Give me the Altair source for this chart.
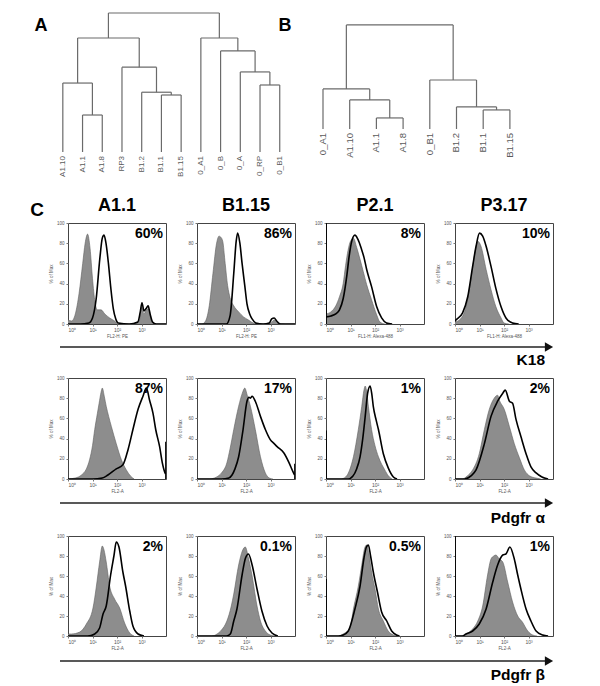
import altair as alt
import pandas as pd

FONT = "Liberation Sans"

# ---------------- Panel A dendrogram ----------------
A_LEAVES = ["A1.10", "A1.1", "A1.8", "RP3", "B1.2", "B1.1", "B1.15",
            "0_A1", "0_B", "0_A", "0_RP", "0_B1"]
# (child, child, merge height); merge k is referred to as "m<k>"
A_MERGES = [
    ("A1.1", "A1.8", 0.266),   # m0
    ("B1.1", "B1.15", 0.41),   # m1
    ("B1.2", "m1", 0.43),      # m2
    ("0_RP", "0_B1", 0.482),   # m3
    ("A1.10", "m0", 0.496),    # m4
    ("0_A", "m3", 0.576),      # m5
    ("RP3", "m2", 0.61),       # m6
    ("0_B", "m5", 0.727),      # m7
    ("m4", "m6", 0.82),        # m8
    ("0_A1", "m7", 0.82),      # m9
    ("m8", "m9", 1.0),         # m10
]

# ---------------- Panel B dendrogram ----------------
B_LEAVES = ["0_A1", "A1.10", "A1.1", "A1.8", "0_B1", "B1.2", "B1.1", "B1.15"]
B_MERGES = [
    ("A1.1", "A1.8", 0.106),   # m0
    ("B1.1", "B1.15", 0.183),  # m1
    ("B1.2", "m1", 0.212),     # m2
    ("A1.10", "m0", 0.279),    # m3
    ("0_A1", "m3", 0.385),     # m4
    ("0_B1", "m2", 0.471),     # m5
    ("m4", "m5", 1.0),         # m6
]

PANEL_LETTERS = ["A", "B", "C"]

# ---------------- Panel C flow histograms ----------------
CLONES = ["A1.1", "B1.15", "P2.1", "P3.17"]
MARKERS = ["K18", "Pdgfr α", "Pdgfr β"]
PERCENT = {
    "K18": ["60%", "86%", "8%", "10%"],
    "Pdgfr α": ["87%", "17%", "1%", "2%"],
    "Pdgfr β": ["2%", "0.1%", "0.5%", "1%"],
}
X_TITLES = {
    "K18": ["FL2-H: PE", "FL2-H: PE", "FL1-H: Alexa-488", "FL1-H: Alexa-488"],
    "Pdgfr α": ["FL2-A", "FL2-A", "FL2-A", "FL2-A"],
    "Pdgfr β": ["FL2-A", "FL2-A", "FL2-A", "FL2-A"],
}
X_TICKS = [0, 1, 2, 3]          # log10 decades
Y_TICKS = [0, 20, 40, 60, 80, 100]

# control (grey filled) histograms: (log10 intensity, % of max)
CONTROL = {
    "K18": [
        ([0, 0.15, 0.3, 0.45, 0.6, 0.7, 0.8, 0.9, 1.0, 1.1, 1.2, 1.35, 1.5, 1.7, 1.9, 2.05, 2.6, 2.9, 3.0, 3.1, 3.2, 3.3, 3.4, 3.6, 4.0],
         [4, 3, 10, 30, 60, 80, 89, 75, 45, 22, 14, 14, 10, 6, 3, 0, 0, 2, 17, 10, 14, 15, 3, 0, 0]),
        ([0, 0.2, 0.35, 0.5, 0.65, 0.8, 0.9, 0.97, 1.05, 1.15, 1.25, 1.35, 1.5, 1.7, 1.9, 2.1, 2.3, 2.6, 3.0, 3.15, 3.3, 3.6, 4.0],
         [0, 0, 3, 18, 50, 80, 87, 86, 82, 60, 38, 26, 18, 12, 7, 4, 1, 0, 1, 4, 1, 0, 0]),
        ([0, 0.2, 0.4, 0.55, 0.7, 0.8, 0.9, 1.0, 1.12, 1.25, 1.39, 1.52, 1.66, 1.86, 2.07, 2.2, 2.4],
         [10, 12, 18, 27, 40, 58, 73, 82, 85, 76, 64, 52, 39, 24, 9, 2, 0]),
        ([0, 0.18, 0.45, 0.65, 0.83, 0.93, 1.06, 1.27, 1.47, 1.67, 1.88, 2.0, 2.2],
         [2, 4, 17, 44, 73, 82, 77, 54, 34, 17, 6, 1, 0]),
    ],
    "Pdgfr α": [
        ([0, 0.3, 0.55, 0.75, 0.88, 1.0, 1.09, 1.2, 1.27, 1.35, 1.4, 1.48, 1.56, 1.66, 1.77, 1.97, 2.18, 2.38, 2.55, 2.7],
         [0, 1, 4, 10, 19, 33, 49, 65, 75, 86, 90, 82, 72, 62, 52, 35, 19, 9, 3, 0]),
        ([0, 0.5, 0.8, 1.0, 1.22, 1.35, 1.5, 1.7, 1.85, 1.95, 2.05, 2.18, 2.38, 2.59, 2.79, 2.95, 3.1],
         [0, 0, 2, 6, 16, 30, 49, 72, 85, 90, 83, 72, 49, 22, 6, 1, 0]),
        ([0, 0.6, 0.8, 0.95, 1.12, 1.32, 1.46, 1.55, 1.6, 1.65, 1.73, 1.86, 2.0, 2.14, 2.4, 2.55, 2.7],
         [0, 0, 2, 8, 22, 49, 72, 88, 92, 88, 72, 49, 33, 22, 9, 3, 0]),
        ([0, 0.3, 0.5, 0.72, 0.99, 1.2, 1.4, 1.6, 1.74, 1.81, 2.01, 2.22, 2.42, 2.63, 2.83, 3.05, 3.3, 3.5],
         [0, 0, 3, 9, 25, 49, 69, 80, 83, 78, 69, 52, 35, 21, 9, 3, 1, 0]),
    ],
    "Pdgfr β": [
        ([0, 0.14, 0.48, 0.75, 1.02, 1.16, 1.29, 1.4, 1.47, 1.56, 1.7, 1.9, 2.11, 2.31, 2.52, 2.7],
         [2, 2, 4, 12, 28, 50, 74, 90, 86, 74, 50, 37, 28, 13, 3, 0]),
        ([0, 0.6, 0.82, 1.0, 1.22, 1.4, 1.5, 1.7, 1.85, 1.97, 2.1, 2.25, 2.45, 2.59, 2.79, 2.99, 3.2],
         [0, 0, 2, 6, 15, 30, 42, 71, 85, 89, 78, 60, 30, 15, 5, 1, 0]),
        ([0, 0.5, 0.7, 0.98, 1.12, 1.32, 1.46, 1.58, 1.66, 1.75, 1.86, 2.0, 2.14, 2.34, 2.54, 2.75, 2.9],
         [0, 0, 2, 8, 27, 50, 71, 88, 91, 82, 64, 47, 27, 15, 5, 1, 0]),
        ([0, 0.3, 0.45, 0.72, 0.93, 1.13, 1.33, 1.47, 1.58, 1.67, 1.81, 1.95, 2.15, 2.35, 2.56, 2.75, 2.97, 3.17, 3.35],
         [0, 0, 2, 7, 15, 30, 61, 77, 80, 81, 77, 74, 54, 34, 20, 14, 5, 1, 0]),
    ],
}

# stained (black outline) histograms
STAINED = {
    "K18": [
        ([0, 0.5, 0.85, 1.0, 1.15, 1.3, 1.4, 1.47, 1.55, 1.65, 1.75, 1.85, 1.95, 2.05, 2.5, 2.85, 2.95, 3.02, 3.1, 3.18, 3.27, 3.35, 3.45, 3.6, 4.0],
         [0, 0, 1, 6, 25, 65, 85, 88, 80, 60, 35, 15, 5, 1, 0, 2, 12, 21, 13, 15, 18, 10, 2, 0, 0]),
        ([0, 1.0, 1.2, 1.35, 1.5, 1.6, 1.66, 1.75, 1.84, 1.95, 2.04, 2.15, 2.25, 2.4, 2.7, 2.95, 3.05, 3.15, 3.25, 3.4, 4.0],
         [0, 0, 0, 8, 50, 82, 90, 80, 60, 38, 20, 10, 5, 1, 0, 1, 5, 6, 3, 0, 0]),
        ([0, 0.2, 0.4, 0.55, 0.7, 0.85, 0.95, 1.05, 1.18, 1.3, 1.45, 1.55, 1.66, 1.86, 2.07, 2.27, 2.47, 2.7],
         [7, 8, 10, 14, 25, 48, 68, 82, 88, 84, 74, 66, 54, 37, 17, 6, 1, 0]),
        ([0, 0.04, 0.31, 0.52, 0.72, 0.86, 1.0, 1.13, 1.27, 1.47, 1.67, 1.88, 2.08, 2.35, 2.6],
         [3, 4, 11, 27, 57, 77, 90, 87, 77, 57, 35, 17, 6, 1, 0]),
    ],
    "Pdgfr α": [
        ([0, 1.0, 1.4, 1.63, 1.97, 2.24, 2.45, 2.65, 2.86, 3.06, 3.2, 3.33, 3.47, 3.58, 3.74, 3.85, 3.92, 3.98],
         [0, 0, 1, 4, 10, 14, 29, 49, 69, 82, 90, 78, 65, 49, 32, 16, 9, 5]),
        ([0, 1.0, 1.3, 1.43, 1.55, 1.7, 1.88, 2.04, 2.12, 2.18, 2.25, 2.38, 2.59, 2.79, 2.99, 3.15, 3.27, 3.54, 3.74, 3.92, 3.98],
         [0, 0, 1, 4, 10, 22, 49, 77, 81, 80, 82, 77, 62, 49, 39, 35, 32, 26, 17, 7, 4]),
        ([0, 0.9, 1.1, 1.25, 1.39, 1.5, 1.6, 1.7, 1.8, 1.87, 1.93, 2.05, 2.14, 2.34, 2.54, 2.75, 2.9],
         [0, 0, 3, 10, 22, 40, 62, 85, 92, 84, 72, 58, 49, 25, 11, 2, 0]),
        ([0, 0.4, 0.65, 0.86, 1.2, 1.47, 1.74, 1.95, 2.05, 2.22, 2.35, 2.49, 2.69, 2.9, 3.1, 3.31, 3.55, 3.8],
         [0, 0, 3, 9, 35, 62, 77, 85, 88, 77, 75, 59, 42, 25, 12, 6, 2, 0]),
    ],
    "Pdgfr β": [
        ([0, 0.8, 1.09, 1.29, 1.43, 1.56, 1.74, 1.88, 1.97, 2.08, 2.24, 2.35, 2.52, 2.65, 2.86, 3.1],
         [0, 0, 2, 8, 22, 30, 61, 81, 94, 89, 64, 50, 25, 10, 2, 0]),
        ([0, 1.2, 1.36, 1.5, 1.63, 1.84, 1.98, 2.1, 2.25, 2.45, 2.65, 2.86, 3.06, 3.3],
         [0, 0, 2, 15, 27, 61, 78, 82, 71, 47, 25, 10, 3, 0]),
        ([0, 0.5, 0.7, 0.91, 1.18, 1.39, 1.55, 1.65, 1.73, 1.82, 1.93, 2.1, 2.27, 2.48, 2.68, 2.88, 3.0],
         [0, 0, 1, 5, 27, 50, 78, 89, 91, 80, 64, 44, 24, 15, 5, 1, 0]),
        ([0, 0.3, 0.45, 0.72, 0.99, 1.27, 1.54, 1.74, 1.95, 2.08, 2.24, 2.42, 2.56, 2.69, 2.9, 3.1, 3.31, 3.58, 3.8],
         [0, 0, 2, 5, 12, 27, 54, 71, 81, 82, 89, 77, 61, 47, 27, 15, 5, 1, 0]),
    ],
}

# off-scale event piles at the axis edges: (decade, % of max)
SPIKES = {
    "K18": [[], [], [(0, 100)], []],
    "Pdgfr α": [[(4, 37)], [(4, 15)], [(0, 48)], []],
    "Pdgfr β": [[], [], [(0, 57)], [(0, 100)]],
}

HIDDEN_VIEW = alt.ViewBackground(strokeOpacity=0, fillOpacity=0)


# ---------------- helpers ----------------
def dendro_frames(leaves, merges):
    pos = {name: (i, 0.0) for i, name in enumerate(leaves)}
    rows = []
    for k, (a, b, h) in enumerate(merges):
        xa, ha = pos[a]
        xb, hb = pos[b]
        rows.append(dict(x=xa, x2=xa, y=ha, y2=h))
        rows.append(dict(x=xb, x2=xb, y=hb, y2=h))
        rows.append(dict(x=xa, x2=xb, y=h, y2=h))
        pos[f"m{k}"] = ((xa + xb) / 2, h)
    segs = pd.DataFrame(rows)
    labs = pd.DataFrame({"x": list(range(len(leaves))), "y": [0.0] * len(leaves), "name": leaves})
    return segs, labs


def dendro_chart(leaves, merges, xdom, ydom, w, h, fsize, letters):
    segs, labs = dendro_frames(leaves, merges)
    xs = alt.Scale(domain=xdom, nice=False, zero=False, clamp=False)
    ys = alt.Scale(domain=ydom, nice=False, zero=False, clamp=False)
    rules = alt.Chart(segs).mark_rule(color="#6a6a6a", strokeWidth=1.2).encode(
        x=alt.X("x:Q", scale=xs, axis=None), x2="x2:Q",
        y=alt.Y("y:Q", scale=ys, axis=None), y2="y2:Q")
    text = alt.Chart(labs).mark_text(angle=270, align="right", baseline="middle", dx=-4,
                                     fontSize=fsize, font=FONT, color="#5a5a5a").encode(
        x=alt.X("x:Q", scale=xs, axis=None), y=alt.Y("y:Q", scale=ys, axis=None), text="name:N")
    layers = [rules, text]
    for letter, (lx, ly) in letters:
        layers.append(alt.Chart(pd.DataFrame({"t": [letter]})).mark_text(
            fontSize=18, fontWeight="bold", font=FONT, color="black").encode(
            text="t:N", x=alt.value(lx), y=alt.value(ly)))
    return alt.layer(*layers).properties(width=w, height=h, view=HIDDEN_VIEW)


LABEL_EXPR = ("datum.value == 0 ? '10⁰' : datum.value == 1 ? '10¹' : "
              "datum.value == 2 ? '10²' : '10³'")


def hist_chart(marker, ci, height, with_title):
    cx, cy = CONTROL[marker][ci]
    sx, sy = STAINED[marker][ci]
    cdf = pd.DataFrame({"x": cx, "y": cy})
    sdf = pd.DataFrame({"x": sx, "y": sy})
    xenc = alt.X("x:Q", scale=alt.Scale(domain=[0, 4], nice=False, zero=False),
                 axis=alt.Axis(values=X_TICKS, labelExpr=LABEL_EXPR, title=X_TITLES[marker][ci],
                               labelFontSize=5, titleFontSize=4.5, titleFontWeight="normal",
                               labelColor="#555", titleColor="#555", tickSize=2, tickColor="#777",
                               labelPadding=1, titlePadding=1, domain=False, grid=False,
                               labelFont=FONT, titleFont=FONT))
    yenc = alt.Y("y:Q", scale=alt.Scale(domain=[0, 100], nice=False, zero=True),
                 axis=alt.Axis(values=Y_TICKS, title="% of Max", labelFontSize=4.5,
                               titleFontSize=4.5, titleFontWeight="normal",
                               labelColor="#555", titleColor="#555", tickSize=2, tickColor="#777",
                               labelPadding=2, titlePadding=3, domain=False, grid=False,
                               labelFont=FONT, titleFont=FONT))
    area = alt.Chart(cdf).mark_area(
        color="#8d8d8d", opacity=1, interpolate="monotone", clip=True,
        line=alt.OverlayMarkDef(color="#5f5f5f", strokeWidth=0.6)).encode(x=xenc, y=yenc)
    line = alt.Chart(sdf).mark_line(color="black", strokeWidth=1.6, interpolate="monotone",
                                    clip=True).encode(x=xenc, y=yenc)
    layers = [area, line]
    sp = SPIKES[marker][ci]
    if sp:
        spdf = pd.DataFrame({"x": [p[0] for p in sp], "y": [0] * len(sp), "y2": [p[1] for p in sp]})
        layers.append(alt.Chart(spdf).mark_rule(color="black", strokeWidth=1.8, clip=True).encode(
            x=xenc, y=yenc, y2="y2:Q"))
    layers.append(alt.Chart(pd.DataFrame({"t": [PERCENT[marker][ci]]})).mark_text(
        align="right", baseline="middle", fontSize=14, fontWeight="bold", font=FONT,
        color="black").encode(text="t:N", x=alt.value(95), y=alt.value(11)))
    props = dict(width=98, height=height,
                 view=alt.ViewBackground(stroke="#444", strokeWidth=1, strokeOpacity=1,
                                         fill="white"))
    ch = alt.layer(*layers).properties(**props)
    if with_title:
        ch = ch.properties(title=alt.TitleParams(CLONES[ci], fontSize=18, fontWeight="bold",
                                                 font=FONT, color="black", offset=5,
                                                 frame="group", anchor="middle"))
    return ch


def spacer(w, h):
    return alt.Chart(pd.DataFrame({"v": [0]})).mark_point(opacity=0).encode(
        x=alt.X("v:Q", axis=None), y=alt.Y("v:Q", axis=None)).properties(
        width=w, height=h, view=HIDDEN_VIEW)


def letter_cell(letter, w, h, lx, ly):
    return alt.Chart(pd.DataFrame({"t": [letter]})).mark_text(
        fontSize=19, fontWeight="bold", font=FONT, color="black", baseline="middle").encode(
        text="t:N", x=alt.value(lx), y=alt.value(ly)).properties(width=w, height=h, view=HIDDEN_VIEW)


def arrow_chart(marker, w, h, line_y, text_y):
    d = alt.Chart(pd.DataFrame({"label": [marker]}))
    rule = d.mark_rule(color="#222", strokeWidth=1.5).encode(
        x=alt.value(52), x2=alt.value(537), y=alt.value(line_y))
    tri = d.mark_point(shape="triangle-right", filled=True, color="#111", opacity=1,
                       size=90).encode(x=alt.value(541), y=alt.value(line_y))
    lab = d.mark_text(align="right", baseline="middle", fontSize=15.5, fontWeight="bold",
                      font=FONT, color="black").encode(
        text="label:N", x=alt.value(537), y=alt.value(text_y))
    return alt.layer(rule, tri, lab).properties(width=w, height=h, view=HIDDEN_VIEW)


# ---------------- assemble: aligned 5-column grid, flush bounds ----------------
# column widths: 29, 98, 98, 98, 98 ; column gap 31 -> plot lefts at 68, 197, 326, 455
COL_W = [29, 98, 98, 98, 98]
TOP_H = 215
# panel A sits in column 0 (x0 = 8): 19.72 px per leaf, first leaf at x = 63
chart_a = dendro_chart(A_LEAVES, A_MERGES, [-2.78, -2.78 + 29 / 19.72], [-0.511, 1.036],
                       29, TOP_H, 8,
                       [(PANEL_LETTERS[0], (33, 18)), (PANEL_LETTERS[1], (277, 18))])
# panel B sits in column 2 (x0 = 197): 26.7 px per leaf, first leaf at x = 323
chart_b = dendro_chart(B_LEAVES, B_MERGES, [-4.719, -4.719 + 98 / 26.7], [-0.904, 1.163],
                       98, TOP_H, 9.5, [])

cells = [chart_a, spacer(98, TOP_H), chart_b, spacer(98, TOP_H), spacer(98, TOP_H)]

row_heights = [101, 101, 100]
arrow_specs = [(54, 23, 36), (57, 24, 39), (48, 25, 39)]
for ri, marker in enumerate(MARKERS):
    rh = row_heights[ri]
    if ri == 0:
        cells.append(letter_cell(PANEL_LETTERS[2], COL_W[0], rh, 29, -13))
    else:
        cells.append(spacer(COL_W[0], rh))
    for ci in range(4):
        cells.append(hist_chart(marker, ci, rh, ri == 0))
    ah, ly, ty = arrow_specs[ri]
    cells.append(arrow_chart(marker, COL_W[0], ah, ly, ty))
    cells.extend([spacer(COL_W[k], ah) for k in range(1, 5)])

chart = alt.concat(*cells, columns=5, spacing=alt.RowColnumber(row=0, column=31),
                   bounds="flush").properties(padding=0).configure_view(
    strokeOpacity=0).configure(background="white")

chart.save("out.html", embed_options={"renderer": "svg", "actions": False})
